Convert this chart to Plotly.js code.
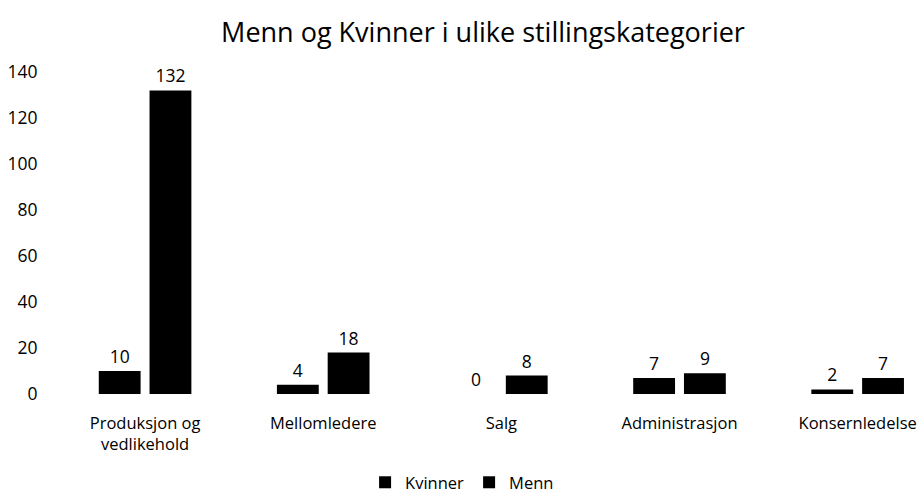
<!DOCTYPE html>
<html>
<head>
<meta charset="utf-8">
<script src="https://cdn.plot.ly/plotly-3.0.1.min.js"></script>
<style>html,body{margin:0;padding:0;background:#fff;}#chart{width:920px;height:496px;}</style>
</head>
<body>
<div id="chart"></div>
<script>
const categories = ["Produksjon og<br>vedlikehold", "Mellomledere", "Salg", "Administrasjon", "Konsernledelse"];
const kvinner = [10, 4, 0, 7, 2];
const menn = [132, 18, 8, 9, 7];
const seriesNames = ["Kvinner", "Menn"];

const font = "Open Sans, sans-serif";
const common = {
  type: "bar",
  x: categories,
  textposition: "outside",
  cliponaxis: false,
  textfont: {family: font, size: 17.5, color: "#000"},
  marker: {color: "#000"},
  hoverinfo: "x+y+name"
};
const traces = [
  Object.assign({}, common, {name: seriesNames[0], y: kvinner, text: kvinner.map(String)}),
  Object.assign({}, common, {name: seriesNames[1], y: menn, text: menn.map(String)})
];
const layout = {
  width: 920, height: 496,
  margin: {l: 56, r: 0, t: 72, b: 102, autoexpand: false},
  paper_bgcolor: "#fff", plot_bgcolor: "#fff",
  font: {family: font, size: 17, color: "#000"},
  title: {text: "Menn og Kvinner i ulike stillingskategorier", font: {family: font, size: 27, color: "#000"}, x: 0.525, xanchor: "center", y: 0.935, yanchor: "middle"},
  barmode: "group",
  bargap: 0.43,
  bargroupgap: 0.176,
  xaxis: {range: [-0.5, 4.35], showgrid: false, zeroline: false, showline: false, ticks: "outside", ticklen: 14, tickcolor: "rgba(0,0,0,0)", tickfont: {family: font, size: 16.5, color: "#000"}},
  yaxis: {range: [0, 140], dtick: 20, showgrid: false, zeroline: false, showline: false, ticks: "outside", ticklen: 14, tickcolor: "rgba(0,0,0,0)", tickfont: {family: font, size: 17.5, color: "#000"}},
  showlegend: true,
  legend: {orientation: "h", x: 0.47, xanchor: "center", y: -0.275, yanchor: "middle", font: {family: font, size: 16.5, color: "#000"}, itemwidth: 30, traceorder: "normal"}
};
Plotly.newPlot("chart", traces, layout, {displayModeBar: false, staticPlot: true});
</script>
</body>
</html>
